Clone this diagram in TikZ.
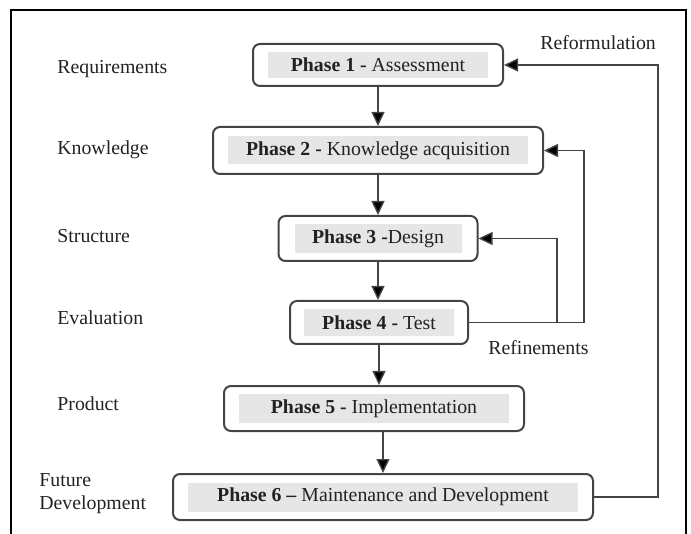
\documentclass[tikz,border=0pt]{standalone}
\usepackage{fontspec}
\setmainfont{Liberation Serif}
\usetikzlibrary{arrows.meta}
\definecolor{boxline}{HTML}{444444}
\definecolor{graybg}{HTML}{E6E6E6}
\definecolor{txt}{HTML}{222222}
\tikzset{
  phasebox/.style={draw=boxline, line width=1pt, rounded corners=3.5pt, fill=white, inner sep=0pt},
  graytext/.style={fill=graybg, inner sep=0pt, text=txt, font=\fontsize{9.9}{12}\selectfont},
  sidelabel/.style={anchor=west, inner sep=0pt, text=txt, font=\fontsize{9.9}{12}\selectfont},
  conn/.style={draw=boxline, line width=0.7pt},
  arr/.style={conn, -{Triangle[length=7pt, width=6.5pt, fill=black]}},
  frameline/.style={draw=black, line width=1.2pt}
}
\begin{document}
\begin{tikzpicture}[x=0.5pt, y=-0.5pt]
\useasboundingbox (0,0) rectangle (691,534);
\draw[frameline] (11,534) -- (11,10) -- (686,10) -- (686,534);

% phase boxes
\node[phasebox, minimum width=125pt, minimum height=21pt] (p1) at (378,65) {};
\node[graytext, minimum width=110pt, minimum height=13pt] (t1) at (p1) {\textbf{Phase 1 -} Assessment};

\node[phasebox, minimum width=165pt, minimum height=23.5pt] (p2) at (378,150.5) {};
\node[graytext, minimum width=150pt, minimum height=14pt] (t2) at (p2) {\textbf{Phase 2 -} Knowledge acquisition};

\node[phasebox, minimum width=99.5pt, minimum height=22.5pt] (p3) at (378,238.5) {};
\node[graytext, minimum width=83.5pt, minimum height=14.5pt] (t3) at (p3) {\textbf{Phase 3 -}Design};

\node[phasebox, minimum width=89pt, minimum height=21.5pt] (p4) at (379,322.5) {};
\node[graytext, minimum width=75pt, minimum height=13.5pt] (t4) at (p4) {\textbf{Phase 4 -} Test};

\node[phasebox, minimum width=150pt, minimum height=22.5pt] (p5) at (374,408.5) {};
\node[graytext, minimum width=135pt, minimum height=14.5pt] (t5) at (p5) {\textbf{Phase 5 -} Implementation};

\node[phasebox, minimum width=210pt, minimum height=23pt] (p6) at (383,497) {};
\node[graytext, minimum width=195pt, minimum height=14.5pt] (t6) at (p6) {\textbf{Phase 6 –} Maintenance and Development};

% side labels
\node[sidelabel] (l1) at (57,69) {Requirements};
\node[sidelabel] (l2) at (57,150) {Knowledge};
\node[sidelabel] (l3) at (57,236) {Structure};
\node[sidelabel] (l4) at (57,318) {Evaluation};
\node[sidelabel] (l5) at (57,404) {Product};
\node[sidelabel, align=left, font=\fontsize{9.9}{11.5}\selectfont] (l6) at (39,494) {Future\\Development};

\node[sidelabel] (lref) at (540,43) {Reformulation};
\node[sidelabel] (lrefin) at (488,348) {Refinements};

% main flow
\draw[arr] (p1.south) -- (p1.south |- p2.north);
\draw[arr] (p2.south) -- (p2.south |- p3.north);
\draw[arr] (p3.south) -- (p3.south |- p4.north);
\draw[arr] (p4.south) -- (p4.south |- p5.north);
\draw[arr] (p5.south -| p6.north) -- (p6.north);

% reformulation loop
\coordinate (rf) at (658,0);
\draw[arr] (p6.east) -- (p6.east -| rf) |- (p1.east);

% refinements loops
\coordinate (r1) at (584,0);
\coordinate (r2) at (557,0);
\draw[arr] (p4.east) -- (p4.east -| r1) |- (p2.east);
\draw[arr] (p4.east -| r2) |- (p3.east);
\end{tikzpicture}
\end{document}
